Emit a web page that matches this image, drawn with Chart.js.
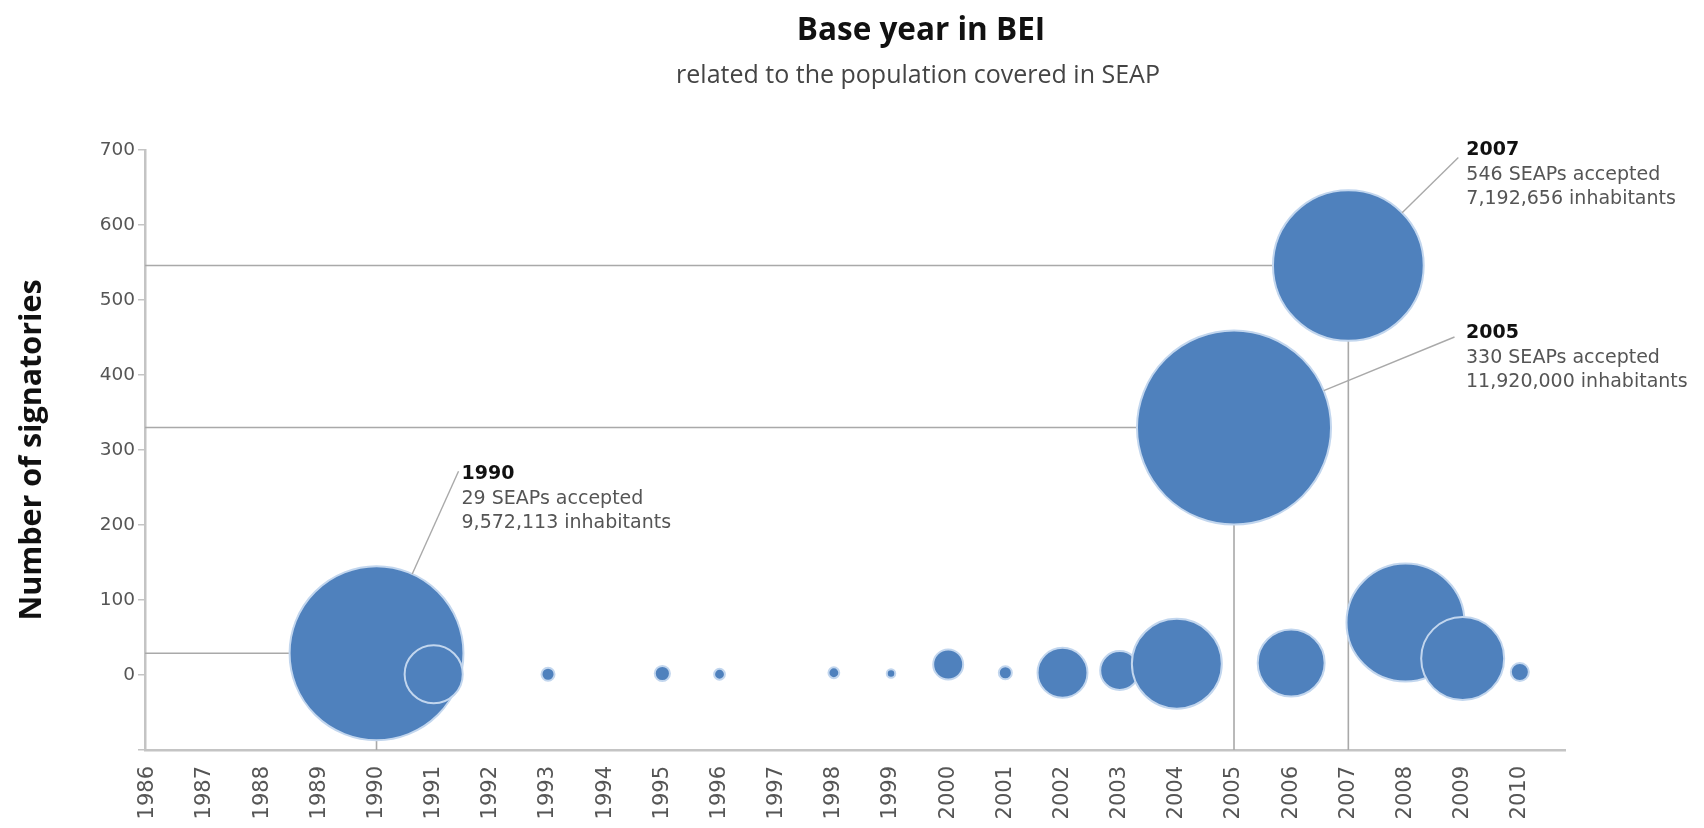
<!DOCTYPE html>
<html><head><meta charset="utf-8">
<script src="https://cdn.jsdelivr.net/npm/chart.js@4.4.1/dist/chart.umd.min.js"></script>
<style>html,body{margin:0;padding:0;background:#fff}</style>
</head><body>
<canvas id="c" width="1704" height="828"></canvas>
<script>
// ---- data ----
const years = [1986,1987,1988,1989,1990,1991,1992,1993,1994,1995,1996,1997,1998,1999,2000,2001,2002,2003,2004,2005,2006,2007,2008,2009,2010];
const bubbleYears = [1990,1991,1993,1995,1996,1998,1999,2000,2001,2002,2003,2004,2005,2006,2007,2008,2009,2010];
const signatories = [29,1,1,2,1,3,2,14,3,3,6,15,330,16,546,70,22,4];
const populationMillions = [9.572113,1.07,0.054,0.073,0.037,0.037,0.023,0.285,0.054,0.79,0.48,2.56,11.92,1.42,7.192656,4.41,2.18,0.103];
const yTicks = [-100,0,100,200,300,400,500,600,700];
const calloutYears = [1990,2005,2007];
const calloutAccepted = [29,330,546];
const calloutInhabitants = ['9,572,113','11,920,000','7,192,656'];

const titleText = 'Base year in BEI';
const subtitleText = 'related to the population covered in SEAP';
const yTitle = 'Number of signatories';

// ---- style / layout ----
const R_PER_SQRT_M = 28.1;
const radiusOf = p => R_PER_SQRT_M * Math.sqrt(p);
const X_MIN = 1985.95, X_MAX = 2010.79, Y_MIN = -100, Y_MAX = 700;
const calloutLayout = {
  1990: {tx: 85, ty: -179, lx: 82, ly: -182},
  2005: {tx: 232, ty: -94, lx: 220.5, ly: -90.5},
  2007: {tx: 118, ty: -115, lx: 110, ly: -108}
};

const bubbleData = bubbleYears.map((yr, i) => ({x: yr, y: signatories[i], r: radiusOf(populationMillions[i])}));

const dropDatasets = calloutYears.map((yr, i) => ({
  type: 'line',
  data: [{x: X_MIN, y: calloutAccepted[i]}, {x: yr, y: calloutAccepted[i]}, {x: yr, y: Y_MIN}],
  borderColor: '#a9a9a9', borderWidth: 1.6, pointRadius: 0, fill: false, tension: 0, order: 5
}));

const titlePlugin = {
  id: 'titles',
  afterDraw(chart) {
    const ctx = chart.ctx;
    ctx.save();
    ctx.textAlign = 'center';
    ctx.textBaseline = 'middle';
    ctx.fillStyle = '#111';
    ctx.font = 'bold 31.5px "Open Sans"';
    ctx.fillText(titleText, 921, 31);
    ctx.fillStyle = '#444';
    ctx.font = '25px "Open Sans"';
    ctx.fillText(subtitleText, 918, 76);
    ctx.restore();
  }
};

const calloutPlugin = {
  id: 'callouts',
  afterDatasetsDraw(chart) {
    const ctx = chart.ctx, xs = chart.scales.x, ys = chart.scales.y;
    ctx.save();
    calloutYears.forEach((yr, i) => {
      const idx = bubbleYears.indexOf(yr);
      const cx = xs.getPixelForValue(yr), cy = ys.getPixelForValue(signatories[idx]);
      const r = radiusOf(populationMillions[idx]);
      const L = calloutLayout[yr];
      const len = Math.hypot(L.lx, L.ly);
      ctx.strokeStyle = '#a9a9a9';
      ctx.lineWidth = 1.4;
      ctx.beginPath();
      ctx.moveTo(cx + L.lx / len * r, cy + L.ly / len * r);
      ctx.lineTo(cx + L.lx, cy + L.ly);
      ctx.stroke();
      const tx = cx + L.tx, ty = cy + L.ty;
      ctx.textAlign = 'left';
      ctx.textBaseline = 'middle';
      ctx.fillStyle = '#111';
      ctx.font = 'bold 19px "DejaVu Sans"';
      ctx.fillText(String(yr), tx, ty);
      ctx.fillStyle = '#555';
      ctx.font = '19px "DejaVu Sans"';
      ctx.fillText(calloutAccepted[i] + ' SEAPs accepted', tx, ty + 24.5);
      ctx.fillText(calloutInhabitants[i] + ' inhabitants', tx, ty + 49);
    });
    ctx.restore();
  }
};

new Chart(document.getElementById('c'), {
  type: 'bubble',
  data: {
    datasets: [
      {
        data: bubbleData,
        backgroundColor: '#4f81bd',
        borderColor: '#c2d6ee',
        borderWidth: 2,
        order: 1
      },
      ...dropDatasets
    ]
  },
  options: {
    responsive: false,
    animation: false,
    events: [],
    layout: {autoPadding: false, padding: {top: 150, left: 0, right: 139, bottom: 0}},
    plugins: {legend: {display: false}, tooltip: {enabled: false}, title: {display: false}},
    scales: {
      x: {
        type: 'linear',
        min: X_MIN, max: X_MAX,
        afterBuildTicks: s => { s.ticks = years.map(v => ({value: v})); },
        afterFit: s => { s.height = 78; },
        grid: {display: false},
        border: {display: true, color: '#c4c4c4', width: 2.5},
        ticks: {
          autoSkip: false, minRotation: 90, maxRotation: 90, padding: 8,
          color: '#555', font: {family: 'DejaVu Sans', size: 21},
          callback: v => String(v)
        }
      },
      y: {
        type: 'linear',
        min: Y_MIN, max: Y_MAX,
        afterBuildTicks: s => { s.ticks = yTicks.map(v => ({value: v})); },
        afterFit: s => { s.width = 145; },
        grid: {display: true, drawOnChartArea: false, drawTicks: true, tickLength: 7, color: '#c4c4c4', lineWidth: 1.5},
        border: {display: true, color: '#c4c4c4', width: 2.5},
        ticks: {
          padding: 3, color: '#555', font: {family: 'DejaVu Sans', size: 18.5},
          callback: v => (v < 0 ? '' : String(v))
        },
        title: {
          display: true, text: yTitle, color: '#111',
          font: {family: 'Open Sans', size: 30.5, weight: 'bold', lineHeight: 1.2},
          padding: {top: 14, bottom: 0}
        }
      }
    }
  },
  plugins: [titlePlugin, calloutPlugin]
});
</script>
</body></html>
